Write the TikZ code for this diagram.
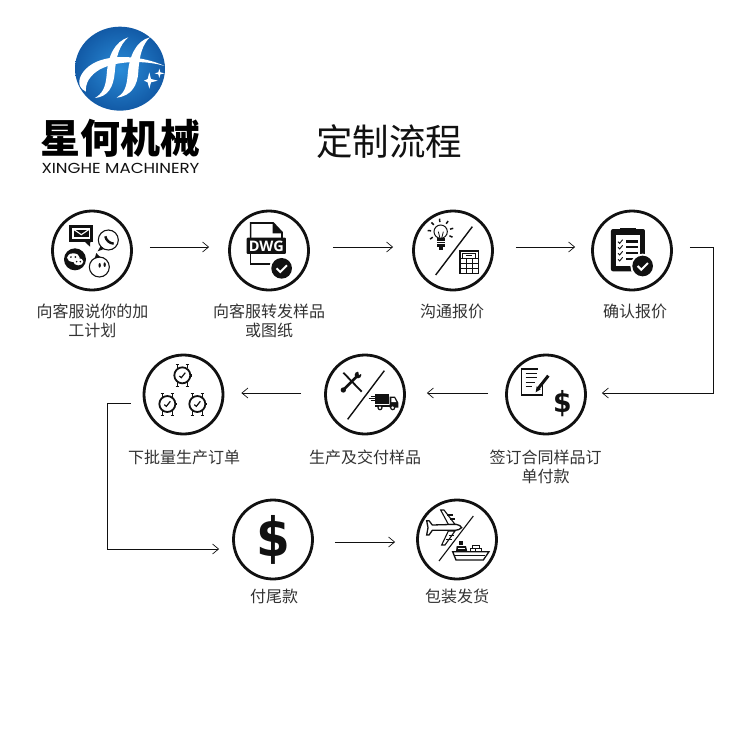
\documentclass[tikz,border=0pt]{standalone}
\usepackage{fontspec}
\newfontfamily\cjk{Noto Sans CJK SC}
\newfontfamily\latn{Open Sans}
\newfontfamily\geo{Poppins}
\newfontfamily\heavy{DejaVu Sans}
\usetikzlibrary{calc,arrows.meta}
\definecolor{ink}{HTML}{111111}
\definecolor{lab}{HTML}{333333}
\definecolor{logoin}{HTML}{2A8CD8}
\definecolor{logoout}{HTML}{125AA6}
\tikzset{
 ring/.style={circle,draw=ink,line width=2.8pt,minimum size=79pt,inner sep=0pt},
 lbl/.style={font=\cjk\fontsize{16}{19}\selectfont,text=lab,align=center,inner sep=0pt,anchor=center},
 flow/.style={draw=ink,line width=0.9pt,-{Straight Barb[length=6pt,width=10pt,line width=0.7pt]}},
 thin line/.style={draw=ink,line width=1.1pt,fill=white},
 slash/.style={draw=ink,line width=1.4pt},
 zoom/.style={x=0.3333pt,y=-0.3333pt},
}
\begin{document}
\begin{tikzpicture}[x=1pt,y=-1pt]
\useasboundingbox (0,0) rectangle (750,750);
\fill[white] (0,0) rectangle (750,750);

% logo
\begin{scope}[shift={(70,20)},zoom]
 \shade[inner color=logoin,outer color=logoout] (150,146) ellipse [x radius=135,y radius=126];
 \fill[white] (175,52) .. controls (135,65) and (114,105) .. (110,165) .. controls (107,205) and (95,222) .. (75,234)
   .. controls (115,230) and (130,200) .. (134,160) .. controls (138,110) and (148,75) .. (175,52) -- cycle;
 \fill[white] (240,52) .. controls (198,62) and (177,110) .. (173,165) .. controls (170,205) and (160,222) .. (140,233)
   .. controls (185,228) and (203,195) .. (205,155) .. controls (208,105) and (218,72) .. (240,52) -- cycle;
 \fill[white] (284,138) .. controls (220,108) and (125,100) .. (70,130) .. controls (35,150) and (22,180) .. (30,198)
   .. controls (33,206) and (40,211) .. (48,215) .. controls (45,190) and (60,165) .. (90,148) .. controls (140,122) and (225,120) .. (284,138) -- cycle;
 \fill[white] (238,157) -- (243,177) -- (263,182) -- (243,187) -- (238,206) -- (233,187) -- (222,182) -- (233,177) -- cycle;
 \fill[white] (268,146) -- (271,157) -- (284,160) -- (271,163) -- (268,174) -- (265,163) -- (254,160) -- (265,157) -- cycle;
\end{scope}
\node[font=\cjk\bfseries\fontsize{40}{40}\selectfont,text=black,inner sep=0pt] (brand) at (120,138) {星何机械};
\node[font=\geo\fontsize{14.5}{15}\selectfont,text=ink,inner sep=0pt,xscale=1.15] (brandlatin) at (120.5,168) {XINGHE MACHINERY};
\node[font=\cjk\fontsize{36.5}{38}\selectfont,text=ink,inner sep=0pt] (title) at (389,142) {定制流程};

% circles
\node[ring] (n1) at (92,250.5) {};
\node[ring] (n2) at (269,250.5) {};
\node[ring] (n3) at (453,250.5) {};
\node[ring] (n4) at (632,250.5) {};
\node[ring] (n5) at (546,394.5) {};
\node[ring] (n6) at (365,394.5) {};
\node[ring] (n7) at (183.5,394.5) {};
\node[ring] (n8) at (273,539.5) {};
\node[ring] (n9) at (457,539.5) {};

% labels
\node[lbl] (t1) at (92.5,321) {向客服说你的加\\工计划};
\node[lbl] (t2) at (269,321) {向客服转发样品\\或图纸};
\node[lbl] (t3) at (452,311.5) {沟通报价};
\node[lbl] (t4) at (635,311.5) {确认报价};
\node[lbl] (t5) at (545.5,467) {签订合同样品订\\单付款};
\node[lbl] (t6) at (365,457.5) {生产及交付样品};
\node[lbl] (t7) at (184,457.5) {下批量生产订单};
\node[lbl] (t8) at (274,596.5) {付尾款};
\node[lbl] (t9) at (457,596.5) {包装发货};

% connectors
\draw[flow] ($(n1.east)+(17,-3.5)$) -- ($(n2.west)+(-19,-3.5)$);
\draw[flow] ($(n2.east)+(23,-3.5)$) -- ($(n3.west)+(-19,-3.5)$);
\draw[flow] ($(n3.east)+(22,-3.5)$) -- ($(n4.west)+(-16,-3.5)$);
\draw[flow] ($(n4.east)+(17,-3)$) -| ($(n5.east)+(126.5,-1.5)$) -- ($(n5.east)+(15,-1.5)$);
\draw[flow] ($(n5.west)+(-17,-1.5)$) -- ($(n6.east)+(21,-1.5)$);
\draw[flow] ($(n6.west)+(-23,-1.5)$) -- ($(n7.east)+(17,-1.5)$);
\draw[flow] ($(n7.west)+(-12,8.5)$) -| ($(n8.west)+(-125,9.5)$) -- ($(n8.west)+(-13,9.5)$);
\draw[flow] ($(n8.east)+(21,2.5)$) -- ($(n9.west)+(-21,2.5)$);

% icon 1
\begin{scope}[shift={(60,218)},zoom]
 \fill[ink] (27,22) rectangle (100,72);
 \fill[ink] (74,71) -- (90,86) -- (91,71) -- cycle;
 \draw[white,line width=1.1pt] (39,33) rectangle (89,60);
 \draw[white,line width=1.1pt] (39,33) -- (64,50) -- (89,33);
 \draw[thin line] (145,66) circle [radius=30];
 \fill[ink] (122,84) -- (113,100) -- (132,93) -- cycle;
 \draw[ink,line width=2.4pt] (136,55) .. controls (138,66) and (148,76) .. (161,77);
 \fill[ink] (45,124) circle [radius=33];
 \fill[white] (40,119) ellipse [x radius=19,y radius=13];
 \fill[white] (55,131) ellipse [x radius=15,y radius=11];
 \fill[ink] (33,117) circle [radius=3] (46,117) circle [radius=3] (50,131) circle [radius=2.6] (61,131) circle [radius=2.6];
 \draw[thin line] (118,147) circle [radius=30];
 \fill[ink] (104,122) -- (109,105) -- (121,118) -- cycle;
 \fill[ink] (119,142) ellipse [x radius=3.5,y radius=7] (134,140) ellipse [x radius=3.5,y radius=7];
\end{scope}

% icon 2
\begin{scope}[shift={(30,200)},zoom]
 \draw[ink,line width=1.6pt] (662,120) -- (662,69) -- (730,69) -- (756,97) -- (756,120);
 \fill[ink] (728,69) -- (759,100) -- (728,100) -- cycle;
 \draw[ink,line width=1.6pt] (662,160) -- (662,192) -- (728,192);
 \fill[ink,rounded corners=1pt] (650,113) rectangle (768,162);
 \node[font=\latn\bfseries\fontsize{14.5}{15}\selectfont,text=white,inner sep=0pt] (dwg) at (709,138) {DWG};
 \fill[white] (755,205) circle [radius=37];
 \fill[ink] (755,205) circle [radius=31];
 \draw[white,line width=2pt] (740,205) -- (751,216) -- (771,196);
\end{scope}

% icon 3
\begin{scope}[shift={(420,215)},zoom]
 \draw[slash] (157,35) -- (47,180);
 \draw[ink,line width=1pt,fill=white] (62,50) circle [radius=20];
 \draw[ink,line width=0.8pt] (55,50) -- (60,70) (70,50) -- (65,70);
 \fill[ink] (52,70) rectangle (75,95);
 \fill[ink] (57,95) rectangle (70,105);
 \draw[white,line width=0.6pt] (52,78) -- (75,78) (52,86) -- (75,86);
 \foreach \a in {25,-15,-55,-95,-135,-175,145}{
  \draw[ink,line width=1.5pt] (62,50) ++(\a:29) -- ++(\a:10);
 }
 \draw[ink,line width=1.5pt] (120,108) rectangle (175,175);
 \draw[ink,line width=0.9pt] (128,115) rectangle (167,130);
 \draw[ink,line width=0.9pt] (138,122) -- (155,122);
 \foreach \x in {138,157}{\draw[ink,line width=0.9pt] (\x,130) -- (\x,175);}
 \foreach \y in {130,145,160}{\draw[ink,line width=0.9pt] (120,\y) -- (175,\y);}
\end{scope}

% icon 4
\begin{scope}[shift={(390,200)},zoom]
 \fill[ink,rounded corners=2pt] (663,87) rectangle (765,214);
 \fill[white] (678,104) rectangle (751,199);
 \fill[ink] (690,98) rectangle (737,84);
 \fill[ink] (697,85) arc (180:0:16) -- cycle;
 \fill[white] (713,77) circle [radius=4];
 \foreach \y in {125,142,160,178}{
  \fill[ink] (707,\y-4) rectangle (745,\y+3);
  \draw[ink,line width=0.9pt] (684,\y) -- (689,\y+5) -- (698,\y-6);
 }
 \fill[white] (758,198) circle [radius=37];
 \fill[ink] (758,198) circle [radius=31];
 \draw[white,line width=2pt] (743,198) -- (754,209) -- (774,189);
\end{scope}

% icon 7 (sign)
\begin{scope}[shift={(420,345)},zoom]
 \draw[ink,line width=1.4pt] (368,110) -- (368,150) -- (305,150) -- (305,72) -- (355,72);
 \foreach \y/\e in {85/352,98/352,112/345,125/335}{\draw[ink,line width=1.2pt] (317,\y) -- (\e,\y);}
 \draw[ink,line width=3pt] (385,92) -- (355,130);
 \fill[ink] (347,142) -- (350,124) -- (362,133) -- cycle;
 \node[font=\heavy\bfseries\fontsize{29}{30}\selectfont,text=ink,inner sep=0pt,xscale=0.92] (usd1) at (427,175) {\$};
\end{scope}

% icon 6 (tools / truck)
\begin{scope}[shift={(330,360)},zoom]
 \draw[slash] (163,32) -- (53,178);
 \draw[ink,line width=1.8pt] (40,38) -- (95,95);
 \draw[ink,line width=2.6pt] (42,88) -- (80,50);
 \fill[ink] (40,90) circle [radius=8];
 \fill[ink] (84,45) circle [radius=10];
 \fill[white] (84,30) -- (98,38) -- (87,45) -- cycle;
 \fill[ink] (135,102) rectangle (177,132);
 \fill[ink] (179,110) -- (195,110) -- (205,128) -- (205,143) -- (179,143) -- cycle;
 \fill[white] (184,114) -- (193,114) -- (199,126) -- (184,126) -- cycle;
 \foreach \y/\s in {108/122,115/116,122/122}{\draw[ink,line width=0.9pt] (\s,\y) -- (135,\y);}
 \fill[ink] (135,134) rectangle (205,142);
 \draw[fill=white,draw=ink,line width=1.2pt] (150,143) circle [radius=6] (188,143) circle [radius=6];
\end{scope}

% icon 5 (watches)
\begin{scope}[shift={(145,360)},zoom]
 \foreach \cx/\cy in {112/46,67/132,157/132}{
  \draw[ink,line width=1.8pt] (\cx,\cy) circle [radius=24];
  \draw[ink,line width=1.4pt] (\cx-15,\cy-21) -- (\cx-15,\cy-33) (\cx+15,\cy-21) -- (\cx+15,\cy-33);
  \draw[ink,line width=1.4pt] (\cx-15,\cy+21) -- (\cx-15,\cy+34) (\cx+15,\cy+21) -- (\cx+15,\cy+34);
  \draw[ink,line width=1pt] (\cx-20,\cy-32) -- (\cx-10,\cy-32) (\cx+10,\cy-32) -- (\cx+20,\cy-32) (\cx-20,\cy+34) -- (\cx-10,\cy+34) (\cx+10,\cy+34) -- (\cx+20,\cy+34);
  \fill[ink] (\cx+24,\cy-4) rectangle (\cx+30,\cy+4);
  \draw[ink,line width=1.2pt] (\cx-9,\cy+2) -- (\cx-3,\cy+7) -- (\cx+9,\cy-8);
 }
\end{scope}

% icon 8
\node[font=\heavy\bfseries\fontsize{54}{56}\selectfont,text=ink,inner sep=0pt,xscale=0.9] (usd2) at (273,540) {\$};

% icon 9 (plane / ship)
\begin{scope}[shift={(420,505)},zoom]
 \draw[ink,line width=1.1pt] (160,33) -- (57,168);
 \draw[ink,line width=1.1pt,fill=white] (62,15) -- (72,15) -- (105,58) -- (85,58) -- cycle;
 \draw[ink,line width=1.1pt,fill=white] (65,120) -- (75,120) -- (105,78) -- (85,78) -- cycle;
 \draw[ink,line width=1.1pt] (82,30) -- (100,30) (90,42) -- (105,42) (78,103) -- (95,103) (86,92) -- (103,92);
 \draw[ink,line width=1.3pt,fill=white] (37,60) -- (108,58) .. controls (118,60) and (125,65) .. (125,68) .. controls (120,73) and (112,76) .. (105,76) -- (37,76) -- (27,90) -- (20,90) -- (24,68) -- (20,47) -- (27,47) -- cycle;
 \fill[white] (98,140) -- (207,140) -- (190,165) -- (108,165) -- cycle;
 \draw[ink,line width=1.3pt] (98,140) -- (207,140) -- (190,165) -- (108,165) -- cycle;
 \draw[ink,line width=1pt] (106,150) -- (195,150);
 \fill[ink] (110,123) -- (138,123) -- (142,140) -- (108,140) -- cycle;
 \fill[ink] (118,109) rectangle (130,120);
 \fill[white] (114,128) rectangle (134,132);
 \draw[ink,line width=0.9pt,fill=white] (150,130) rectangle (167,139) (167,130) rectangle (185,139) (158,122) rectangle (178,130);
\end{scope}
\end{tikzpicture}
\end{document}
